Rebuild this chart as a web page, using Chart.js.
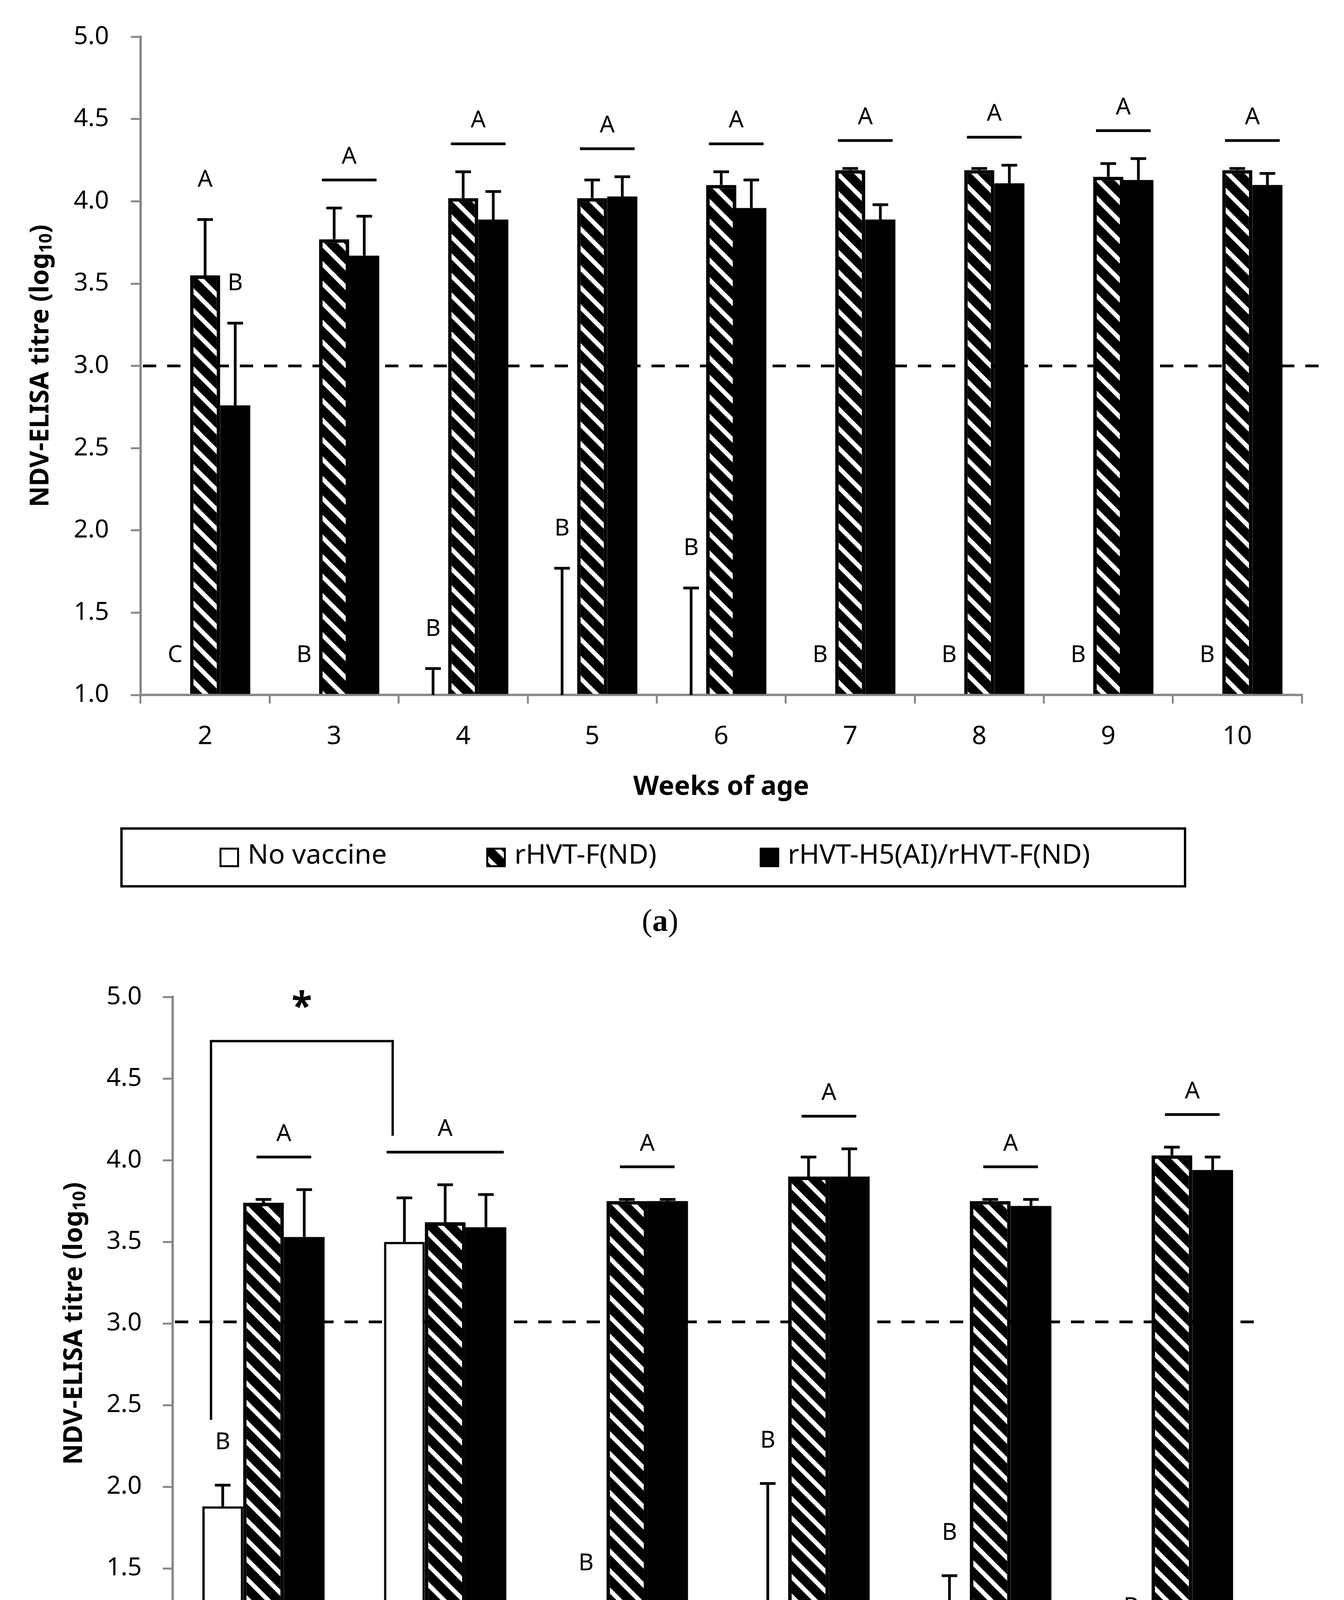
<!DOCTYPE html>
<html lang="en">
<head>
<meta charset="UTF-8">
<title>NDV-ELISA titres</title>
<script src="https://cdn.jsdelivr.net/npm/chart.js@4"></script>
<style>
  body { margin: 0; background: #fff; }
  .panel { position: absolute; left: 0; width: 3441px; }
  #panelA { top: 0; height: 2460px; }
  #panelB { top: 2460px; height: 2548px; }
</style>
</head>
<body>
<div class="panel" id="panelA"><canvas id="chartA"></canvas></div>
<div class="panel" id="panelB"><canvas id="chartB"></canvas></div>
<script>
// ---- data: panel (a) ----
const seriesNames = ['No vaccine', 'rHVT-F(ND)', 'rHVT-H5(AI)/rHVT-F(ND)'];

const weeksA = ['2', '3', '4', '5', '6', '7', '8', '9', '10'];
const noVacA = [1, 1, 1, 1, 1, 1, 1, 1, 1];
const noVacSdA = [0, 0, 0.16, 0.77, 0.65, 0, 0, 0, 0];
const rhvtFA = [3.55, 3.77, 4.02, 4.02, 4.10, 4.19, 4.19, 4.15, 4.19];
const rhvtFSdA = [0.34, 0.19, 0.16, 0.11, 0.08, 0.01, 0.01, 0.08, 0.01];
const rhvtH5A = [2.76, 3.67, 3.89, 4.03, 3.96, 3.89, 4.11, 4.13, 4.10];
const rhvtH5SdA = [0.50, 0.24, 0.17, 0.12, 0.17, 0.09, 0.11, 0.13, 0.07];
const letNoVacA = ['C', 'B', 'B', 'B', 'B', 'B', 'B', 'B', 'B'];
const letFA = ['A', 'A', 'A', 'A', 'A', 'A', 'A', 'A', 'A'];
const letH5A = ['B', 'A', 'A', 'A', 'A', 'A', 'A', 'A', 'A'];

// ---- data: panel (b) ----
const mdaB = ['MDA(-)', 'MDA(+)', 'MDA(-)', 'MDA(+)', 'MDA(-)', 'MDA(+)'];
const weeksB = ['4', '7', '10'];
const noVacB = [1.88, 3.50, 1.00, 1.26, 1.005, 1.00];
const noVacSdB = [0.13, 0.27, 0.27, 0.76, 0.45, 0];
const rhvtFB = [3.74, 3.62, 3.75, 3.90, 3.75, 4.03];
const rhvtFSdB = [0.02, 0.23, 0.01, 0.12, 0.01, 0.05];
const rhvtH5B = [3.53, 3.59, 3.75, 3.90, 3.72, 3.94];
const rhvtH5SdB = [0.29, 0.20, 0.01, 0.17, 0.04, 0.08];
const letNoVacB = ['B', 'A', 'B', 'B', 'B', 'B'];
const letFB = ['A', 'A', 'A', 'A', 'A', 'A'];
const letH5B = ['A', 'A', 'A', 'A', 'A', 'A'];

const yMin = 1, yMax = 5, yStep = 0.5;

Chart.defaults.font.family = "'Noto Sans', sans-serif";
Chart.defaults.color = '#000';

// white "\" stripes on black, 45 degrees
function makeHatch() {
    const P = 50, W = 50;
    const c = document.createElement('canvas');
    c.width = W; c.height = P;
    const g = c.getContext('2d');
    g.fillStyle = '#000';
    g.fillRect(0, 0, W, P);
    g.strokeStyle = '#fff';
    g.lineWidth = 16 * Math.cos(Math.atan(P / W));
    for (let k = -3; k <= 3; k++) {
        g.beginPath();
        g.moveTo(-W, -P + k * P);
        g.lineTo(2 * W, 2 * P + k * P);
        g.stroke();
    }
    return g.createPattern(c, 'repeat');
}
const hatch = makeHatch();
const fills = ['#fff', hatch, '#000'];
const borders = [6, 9, 0];

function annotations(cfg) {
    return {
        id: 'annotations',
        beforeDatasetsDraw(chart) {
            const { ctx, chartArea: a, scales: { y } } = chart;
            const yy = y.getPixelForValue(cfg.cutoff);
            ctx.save();
            ctx.strokeStyle = '#000';
            ctx.lineWidth = 7;
            ctx.setLineDash([34, 28]);
            ctx.beginPath();
            ctx.moveTo(a.left + 6, yy);
            ctx.lineTo(a.right + cfg.cutoffOverhang, yy);
            ctx.stroke();
            ctx.restore();
        },
        afterDatasetsDraw(chart) {
            const { ctx, scales: { y } } = chart;
            const sets = chart.data.datasets;
            ctx.save();
            ctx.strokeStyle = '#000';
            ctx.fillStyle = '#000';
            ctx.lineWidth = 7;

            // error bars (upper only)
            sets.forEach((ds, i) => {
                chart.getDatasetMeta(i).data.forEach((el, j) => {
                    const sd = ds.sd[j];
                    if (!sd) return;
                    const y0 = y.getPixelForValue(ds.data[j]);
                    const y1 = y.getPixelForValue(ds.data[j] + sd);
                    ctx.beginPath();
                    ctx.moveTo(el.x, y0);
                    ctx.lineTo(el.x, y1);
                    ctx.moveTo(el.x - 20, y1);
                    ctx.lineTo(el.x + 20, y1);
                    ctx.stroke();
                });
            });

            // significance letters
            ctx.font = '60px "Noto Sans"';
            ctx.textAlign = 'center';
            ctx.textBaseline = 'middle';
            const n = chart.data.labels.length;
            for (let j = 0; j < n; j++) {
                const groups = {};
                sets.forEach((ds, i) => {
                    const el = chart.getDatasetMeta(i).data[j];
                    const b = { top: ds.data[j] + ds.sd[j], x: el.x, w: el.width };
                    (groups[ds.letters[j]] = groups[ds.letters[j]] || []).push(b);
                });
                Object.keys(groups).forEach(L => {
                    const g = groups[L];
                    const maxTop = Math.max(...g.map(b => b.top));
                    if (g.length === 1) {
                        ctx.fillText(L, g[0].x, y.getPixelForValue(maxTop + cfg.singleOff));
                        return;
                    }
                    const l = Math.min(...g.map(b => b.x - b.w / 2));
                    const r = Math.max(...g.map(b => b.x + b.w / 2));
                    const len = Math.min(r - l - 10, 140 + (g.length - 2) * 160);
                    const cx = (l + r) / 2;
                    const ly = y.getPixelForValue(maxTop + cfg.lineOff);
                    ctx.beginPath();
                    ctx.moveTo(cx - len / 2, ly);
                    ctx.lineTo(cx + len / 2, ly);
                    ctx.stroke();
                    ctx.fillText(L, cx, y.getPixelForValue(maxTop + cfg.lineOff + 0.14));
                });
            }

            // comparison bracket between no-vaccine bars
            if (cfg.bracket) {
                const br = cfg.bracket;
                const meta0 = chart.getDatasetMeta(0).data;
                const topOf = (j) => Math.max(...sets.map(ds => ds.data[j] + ds.sd[j]));
                const lx = meta0[br.from].x - 30, rx = meta0[br.to].x - 30;
                const lv = sets[0].data[br.from] + sets[0].sd[br.from] + 0.4;
                const rv = topOf(br.to) + 0.3;
                const tv = Math.max(lv, rv) + 0.58;
                ctx.lineWidth = 6;
                ctx.beginPath();
                ctx.moveTo(lx, y.getPixelForValue(lv));
                ctx.lineTo(lx, y.getPixelForValue(tv));
                ctx.lineTo(rx, y.getPixelForValue(tv));
                ctx.lineTo(rx, y.getPixelForValue(rv));
                ctx.stroke();
                ctx.font = 'bold 96px "Noto Sans"';
                ctx.fillText(br.label, (lx + rx) / 2, y.getPixelForValue(tv + 0.2));
            }
            ctx.restore();
        },
        afterDraw(chart) {
            const { ctx, chartArea: a } = chart;
            ctx.save();
            ctx.fillStyle = '#000';
            ctx.textBaseline = 'middle';

            // y title with subscript
            const main = 'NDV-ELISA titre (log', sub = '10', tail = ')';
            const fMain = 'bold 66px "Noto Sans"', fSub = 'bold 44px "Noto Sans"';
            ctx.font = fMain;
            const wMain = ctx.measureText(main).width, wTail = ctx.measureText(tail).width;
            ctx.font = fSub;
            const wSub = ctx.measureText(sub).width;
            const total = wMain + wSub + wTail;
            ctx.save();
            ctx.translate(cfg.yTitleX, (a.top + a.bottom) / 2);
            ctx.rotate(-Math.PI / 2);
            ctx.textAlign = 'left';
            let x = -total / 2;
            ctx.font = fMain; ctx.fillText(main, x, 0); x += wMain;
            ctx.font = fSub; ctx.fillText(sub, x, 14); x += wSub;
            ctx.font = fMain; ctx.fillText(tail, x, 0);
            ctx.restore();

            // grouped axis for panel (b)
            if (cfg.groups) {
                const xs = chart.scales.x;
                const n = chart.data.labels.length;
                ctx.strokeStyle = '#888';
                ctx.lineWidth = 5;
                for (let k = 0; k <= n; k++) {
                    const px = xs.getPixelForValue(k - 0.5);
                    const len = k % 2 === 0 ? cfg.longTick : cfg.shortTick;
                    ctx.beginPath();
                    ctx.moveTo(px, a.bottom);
                    ctx.lineTo(px, a.bottom + len);
                    ctx.stroke();
                }
                ctx.font = '66px "Noto Sans"';
                ctx.textAlign = 'center';
                cfg.groups.forEach((g, gi) => {
                    const x0 = xs.getPixelForValue(gi * 2 - 0.5), x1 = xs.getPixelForValue(gi * 2 + 1.5);
                    ctx.fillText(g, (x0 + x1) / 2, cfg.groupLabelY);
                });
            }

            // x title
            ctx.font = 'bold 68px "Noto Sans"';
            ctx.textAlign = 'center';
            ctx.fillText('Weeks of age', (a.left + a.right) / 2, cfg.xTitleY);

            // legend box
            const b = cfg.legendBox;
            ctx.strokeStyle = '#000';
            ctx.lineWidth = 6;
            ctx.strokeRect(b.left, b.top, b.right - b.left, b.bottom - b.top);
            const cy = (b.top + b.bottom) / 2;
            ctx.font = '70px "Noto Sans"';
            ctx.textAlign = 'left';
            chart.data.datasets.forEach((ds, i) => {
                const lx = b.left + cfg.legendItemX[i];
                ctx.fillStyle = ds.backgroundColor;
                ctx.fillRect(lx, cy - 25, 50, 50);
                ctx.lineWidth = 5;
                ctx.strokeRect(lx + 2.5, cy - 22.5, 45, 45);
                ctx.fillStyle = '#000';
                ctx.fillText(ds.label, lx + 72, cy - 4);
            });

            // caption
            const fPar = '80px "Liberation Serif"', fLet = 'bold 80px "Liberation Serif"';
            ctx.font = fPar;
            const wp = ctx.measureText('(').width;
            ctx.font = fLet;
            const wl = ctx.measureText(cfg.caption).width;
            let cx = cfg.captionX - (2 * wp + wl) / 2;
            ctx.font = fPar; ctx.fillText('(', cx, cfg.captionY); cx += wp;
            ctx.font = fLet; ctx.fillText(cfg.caption, cx, cfg.captionY); cx += wl;
            ctx.font = fPar; ctx.fillText(')', cx, cfg.captionY);
            ctx.restore();
        }
    };
}

function barChart(canvasId, labels, sets, cfg) {
    return new Chart(document.getElementById(canvasId), {
        type: 'bar',
        data: {
            labels: labels,
            datasets: sets.map((s, i) => ({
                label: seriesNames[i],
                data: s.values,
                sd: s.sd,
                letters: s.letters,
                backgroundColor: fills[i],
                borderColor: '#000',
                borderWidth: borders[i],
                borderSkipped: 'start',
                base: yMin,
                categoryPercentage: cfg.catPct,
                barPercentage: 1
            }))
        },
        options: {
            devicePixelRatio: 1,
            animation: false,
            responsive: true,
            maintainAspectRatio: false,
            layout: { padding: { left: 0, right: cfg.padRight, top: cfg.padTop, bottom: 0 } },
            plugins: { legend: { display: false }, tooltip: { enabled: false } },
            scales: {
                x: {
                    grid: cfg.groups
                        ? { display: false, drawTicks: false }
                        : { display: true, drawOnChartArea: false, drawTicks: true, tickLength: 22, color: '#888', lineWidth: 5, offset: true },
                    border: { display: true, color: '#888', width: 6 },
                    ticks: { font: { size: 66 }, padding: cfg.xTickPad, color: '#000', maxRotation: 0, autoSkip: false },
                    afterFit(s) { s.height = cfg.xAxisHeight; }
                },
                y: {
                    min: yMin,
                    max: yMax,
                    grid: { drawOnChartArea: false, tickLength: 25, color: '#888', lineWidth: 5 },
                    border: { display: true, color: '#888', width: 6 },
                    ticks: { stepSize: yStep, padding: cfg.yTickPad, font: { size: 64 }, color: '#000', callback: v => v.toFixed(1) },
                    afterFit(s) { s.width = cfg.yAxisWidth; }
                }
            }
        },
        plugins: [annotations(cfg)]
    });
}

barChart('chartA', weeksA, [
    { values: noVacA, sd: noVacSdA, letters: letNoVacA },
    { values: rhvtFA, sd: rhvtFSdA, letters: letFA },
    { values: rhvtH5A, sd: rhvtH5SdA, letters: letH5A }
], {
    yAxisWidth: 360, xAxisHeight: 681, padTop: 75, padRight: 108, catPct: 0.70,
    yTickPad: 56, xTickPad: 46, cutoff: 3.0, cutoffOverhang: 58, lineOff: 0.17, singleOff: 0.24,
    yTitleX: 105, xTitleY: 2016,
    legendBox: { left: 311, top: 2121, right: 3034, bottom: 2269 }, legendItemX: [251, 934, 1634],
    caption: 'a', captionX: 1690, captionY: 2362
});

barChart('chartB', mdaB, [
    { values: noVacB, sd: noVacSdB, letters: letNoVacB },
    { values: rhvtFB, sd: rhvtFSdB, letters: letFB },
    { values: rhvtH5B, sd: rhvtH5SdB, letters: letH5B }
], {
    yAxisWidth: 442, xAxisHeight: 784, padTop: 54, padRight: 208, catPct: 0.673,
    yTickPad: 54, xTickPad: 77, cutoff: 3.01, cutoffOverhang: 0, lineOff: 0.2, singleOff: 0.26,
    yTitleX: 191, xTitleY: 2159,
    groups: weeksB, groupLabelY: 2038, shortTick: 162, longTick: 323,
    bracket: { from: 0, to: 1, label: '*' },
    legendBox: { left: 327, top: 2228, right: 3077, bottom: 2379 }, legendItemX: [250, 934, 1633],
    caption: 'b', captionX: 1699, captionY: 2500
});
</script>
</body>
</html>
